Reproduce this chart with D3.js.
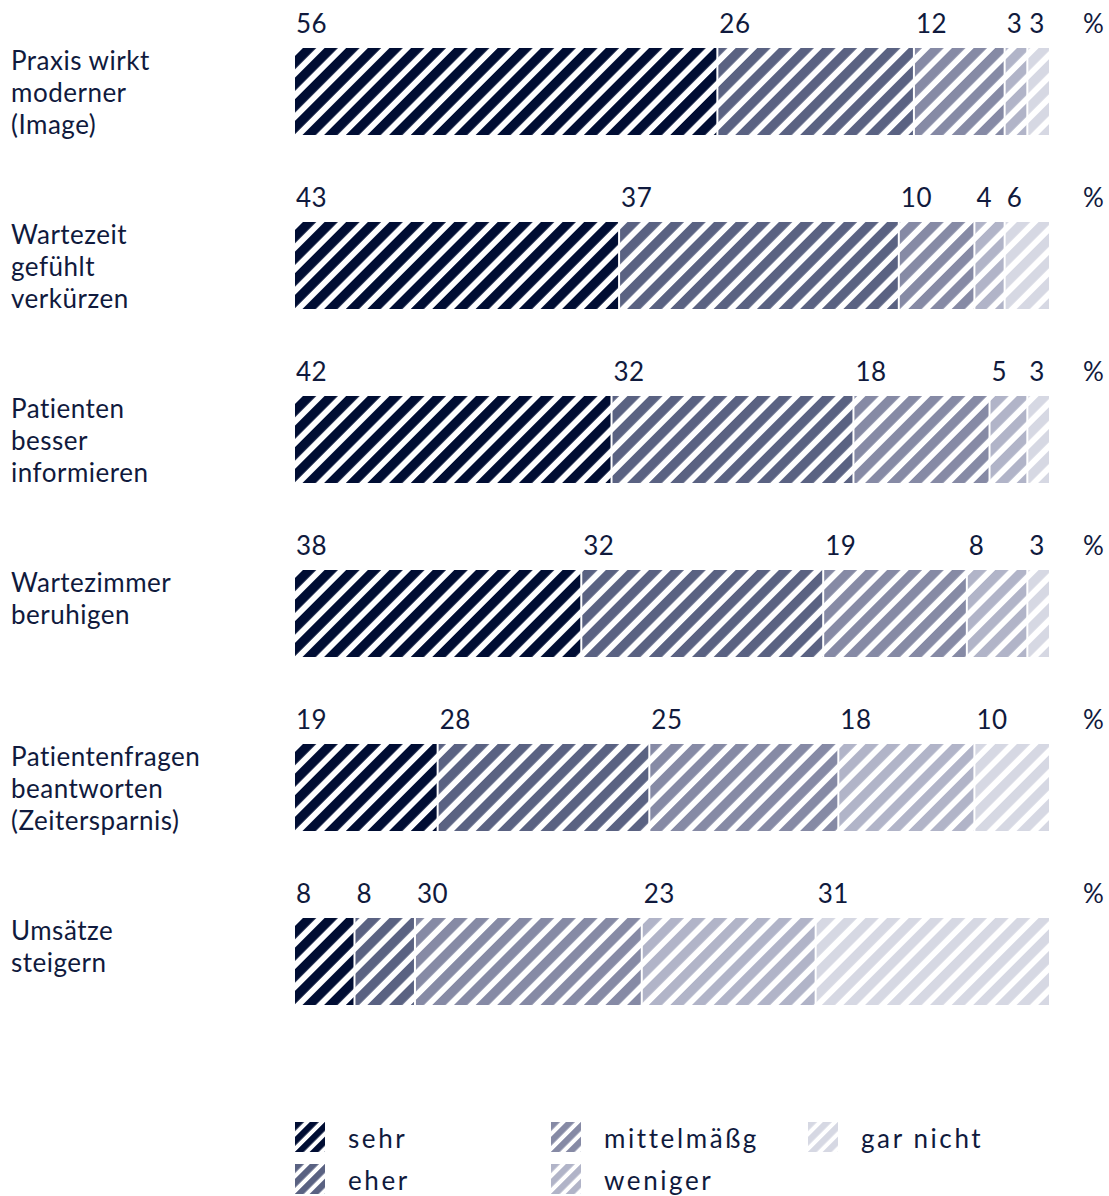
<!DOCTYPE html>
<head>
	<meta charset="utf-8" />
	<style>
		body {
			margin: 0;
			background-color: #fff;
			font-family: Lato, 'Open Sans', sans-serif;
		}
		text {
			fill: #101a3d;
		}
	</style>
</head>
<body>
	<div id="chart-area"></div>
	<script src="https://cdnjs.cloudflare.com/ajax/libs/d3/7.8.5/d3.min.js"></script>
	<script>
		// categories (label lines) and shares per answer
		const categories = [
			['Praxis wirkt', 'moderner', '(Image)'],
			['Wartezeit', 'gefühlt', 'verkürzen'],
			['Patienten', 'besser', 'informieren'],
			['Wartezimmer', 'beruhigen'],
			['Patientenfragen', 'beantworten', '(Zeitersparnis)'],
			['Umsätze', 'steigern']
		];
		const answers = ['sehr', 'eher', 'mittelmäßg', 'weniger', 'gar nicht'];
		const sehr = [56, 43, 42, 38, 19, 8];
		const eher = [26, 37, 32, 32, 28, 8];
		const mittel = [12, 10, 18, 19, 25, 30];
		const weniger = [3, 4, 5, 8, 18, 23];
		const garNicht = [3, 6, 3, 3, 10, 31];
		const colors = ['#000d33', '#5a6282', '#868aa5', '#b1b4c8', '#d6d8e3'];

		const width = 1109,
			height = 1196;

		const series = [sehr, eher, mittel, weniger, garNicht];
		const rows = categories.map((c, i) => {
			let acc = 0;
			return {
				key: c.join(' '),
				lines: c,
				segs: series.map((s, j) => {
					const seg = { k: j, x0: acc, x1: acc + s[i], v: s[i] };
					acc += s[i];
					return seg;
				})
			};
		});

		const x = d3.scaleLinear().domain([0, 100]).range([295, 1051]);
		const y = d3
			.scaleBand()
			.domain(rows.map(d => d.key))
			.range([48, 1005])
			.paddingInner(0.5)
			.paddingOuter(0);

		const svg = d3
			.select('#chart-area')
			.append('svg')
			.attr('width', width)
			.attr('height', height);

		const defs = svg.append('defs');
		function addPattern(id, color, step, band) {
			const p = defs
				.append('pattern')
				.attr('id', id)
				.attr('patternUnits', 'userSpaceOnUse')
				.attr('width', step)
				.attr('height', step)
				.attr('patternTransform', 'rotate(45)');
			p.append('rect')
				.attr('width', band)
				.attr('height', step)
				.attr('fill', color);
		}
		colors.forEach((c, i) => {
			addPattern('hatch' + i, c, 15.3, 9.4);
			addPattern('leg' + i, c, 10.5, 6.4);
		});

		const row = svg
			.selectAll('g.row')
			.data(rows)
			.join('g')
			.attr('class', 'row')
			.attr('transform', d => `translate(0,${y(d.key)})`);

		// category labels
		row.append('text')
			.attr('x', 11)
			.attr('y', 22)
			.style('font-size', '26px')
			.style('letter-spacing', '0.5px')
			.selectAll('tspan')
			.data(d => d.lines)
			.join('tspan')
			.attr('x', 11)
			.attr('dy', (d, i) => (i === 0 ? 0 : 32))
			.text(d => d);

		// bar segments
		row.selectAll('rect')
			.data(d => d.segs)
			.join('rect')
			.attr('x', d => x(d.x0))
			.attr('y', 0)
			.attr('width', d => Math.max(0, x(d.x1) - x(d.x0) - 2))
			.attr('height', y.bandwidth())
			.attr('fill', d => `url(#hatch${d.k})`);

		// value labels
		row.selectAll('text.val')
			.data(d => d.segs)
			.join('text')
			.attr('class', 'val')
			.attr('x', d => x(d.x0) + 1)
			.attr('y', -15)
			.style('font-size', '26px')
			.style('letter-spacing', '0.5px')
			.text(d => d.v);

		row.append('text')
			.attr('x', 1083)
			.attr('y', -15)
			.style('font-size', '26px')
			.text('%');

		// legend
		const legX = [295, 551, 808];
		const legY = [1122, 1164];
		const leg = svg
			.selectAll('g.leg')
			.data(answers)
			.join('g')
			.attr('class', 'leg')
			.attr(
				'transform',
				(d, i) => `translate(${legX[Math.floor(i / 2)]},${legY[i % 2]})`
			);
		leg.append('rect')
			.attr('width', 30)
			.attr('height', 30)
			.attr('fill', (d, i) => `url(#leg${i})`);
		leg.append('text')
			.attr('x', 53)
			.attr('y', 26)
			.style('font-size', '26px')
			.style('letter-spacing', '2.6px')
			.text(d => d);
	</script>
</body>
